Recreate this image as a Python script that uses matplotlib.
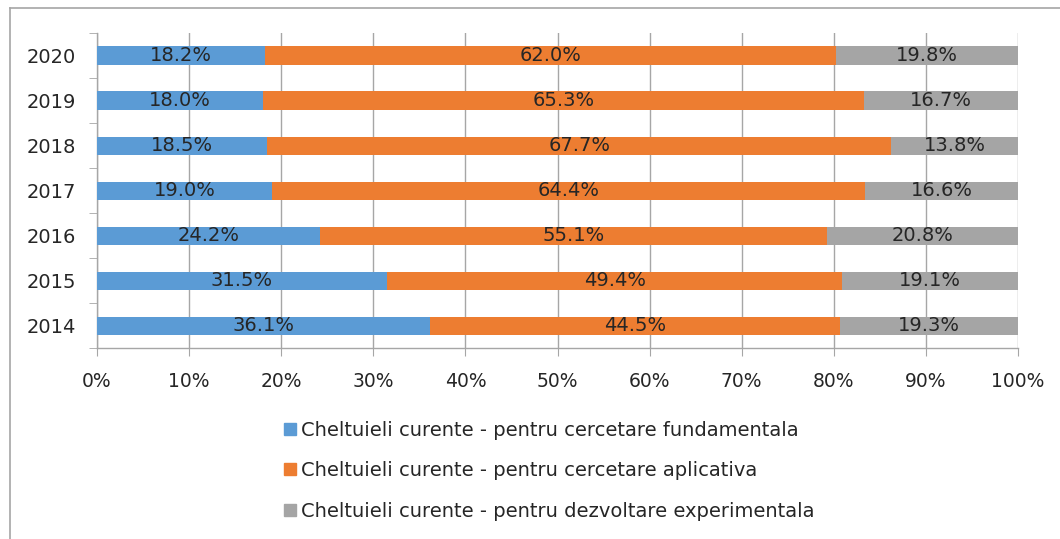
import matplotlib
matplotlib.use("Agg")
import matplotlib.pyplot as plt
import numpy as np
from matplotlib.lines import Line2D

years = ["2014", "2015", "2016", "2017", "2018", "2019", "2020"]
fundamentala = [36.1, 31.5, 24.2, 19.0, 18.5, 18.0, 18.2]
aplicativa = [44.5, 49.4, 55.1, 64.4, 67.7, 65.3, 62.0]
experimentala = [19.3, 19.1, 20.8, 16.6, 13.8, 16.7, 19.8]
series_names = [
    "Cheltuieli curente - pentru cercetare fundamentala",
    "Cheltuieli curente - pentru cercetare aplicativa",
    "Cheltuieli curente - pentru dezvoltare experimentala",
]
colors = ["#5B9BD5", "#ED7D31", "#A5A5A5"]
xticks = [0, 10, 20, 30, 40, 50, 60, 70, 80, 90, 100]

plt.rcParams['font.family'] = ['DejaVu Sans']
txt = "#262626"
grid_c = "#A6A6A6"

fig = plt.figure(figsize=(10.6, 5.39), dpi=100)
ax = fig.add_axes([97/1060, 1-348/539, (1018-97)/1060, (348-33)/539])

data = np.array([fundamentala, aplicativa, experimentala])
totals = data.sum(axis=0)
pct = data / totals * 100
y = np.arange(len(years))
left = np.zeros(len(years))
for i in range(3):
    ax.barh(y, pct[i], left=left, height=0.4, color=colors[i], zorder=3)
    for j in range(len(years)):
        ax.text(left[j] + pct[i][j] / 2, y[j], f"{data[i][j]:.1f}%",
                ha="center", va="center", fontsize=14, color=txt, zorder=4)
    left += pct[i]

ax.set_xlim(0, 100)
ax.set_ylim(-0.5, len(years) - 0.5)
ax.set_xticks(xticks)
ax.set_xticklabels([f"{v}%" for v in xticks], fontsize=13.5, color=txt)
ax.set_yticks(y)
ax.set_yticklabels(years, fontsize=14, color=txt)
ax.set_yticks(np.arange(-0.5, len(years), 1), minor=True)
ax.tick_params(axis="y", which="major", length=0, pad=15)
ax.tick_params(axis="y", which="minor", length=6, color=grid_c, direction="out")
ax.tick_params(axis="x", which="major", length=6, color=grid_c, direction="out", pad=11)
ax.xaxis.grid(True, color=grid_c, linewidth=1, zorder=0)
ax.set_axisbelow(True)
for s in ["top", "right"]:
    ax.spines[s].set_visible(False)
for s in ["left", "bottom"]:
    ax.spines[s].set_color(grid_c)
    ax.spines[s].set_linewidth(1)

handles = [Line2D([], [], marker="s", linestyle="none", markersize=8.5,
                  markerfacecolor=c, markeredgecolor=c) for c in colors]
fig.legend(handles, series_names, loc="upper left",
           bbox_to_anchor=(266/1060, 1-403/539), frameon=False,
           fontsize=14, labelcolor=txt, handlelength=0.65, handletextpad=0.25,
           labelspacing=1.12)

# chart border (left and top)
fig.add_artist(Line2D([10/1060, 10/1060], [0, 1-8/539], transform=fig.transFigure,
                      color="#A6A6A6", linewidth=1.2))
fig.add_artist(Line2D([10/1060, 1], [1-8/539, 1-8/539], transform=fig.transFigure,
                      color="#A6A6A6", linewidth=1.2))

fig.savefig("out.png", dpi=100)
